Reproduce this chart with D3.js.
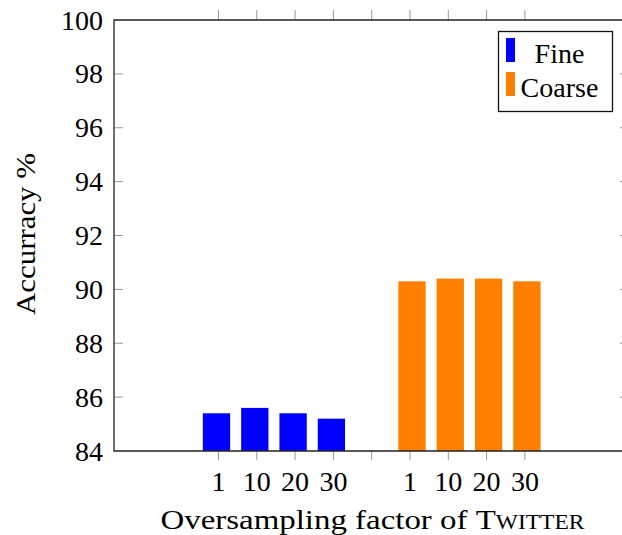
<!DOCTYPE html>
<html>
<head>
<meta charset="utf-8">
<script src="https://cdn.jsdelivr.net/npm/d3@7"></script>
<style>
  html, body { margin: 0; padding: 0; background: #fff; }
  svg { display: block; }
  text { font-family: "Liberation Serif", "DejaVu Serif", serif; fill: #000; }
</style>
</head>
<body>
<div id="chart"></div>
<script>
// Oversampling factors (tick labels) for each granularity
const factors = ["1", "10", "20", "30"];
// Accuracy (%) per oversampling factor
const fineValues = [85.4, 85.6, 85.4, 85.2];
const coarseValues = [90.3, 90.4, 90.4, 90.3];
const seriesNames = ["Fine", "Coarse"];
const seriesColors = ["#0000ff", "#ff8000"];
const yTicks = [84, 86, 88, 90, 92, 94, 96, 98, 100];

const W = 622, H = 535;
const plot = { left: 114, top: 20, bottom: 451, right: 630 };

const svg = d3.select("#chart").append("svg")
  .attr("width", W).attr("height", H);

// Slot keys: four fine positions, an empty spacer slot, four coarse positions
const slots = [
  ...factors.map(f => "F" + f),
  "gap",
  ...factors.map(f => "C" + f)
];
const x = d3.scalePoint().domain(slots).range([218.5, 524.9]);
const y = d3.scaleLinear().domain([84, 100]).range([plot.bottom, plot.top]);

const step = x.step();
const barW = step * 0.713;
const shift = 2;

const bars = [
  ...fineValues.map((v, i) => ({ key: "F" + factors[i], v, s: 0 })),
  ...coarseValues.map((v, i) => ({ key: "C" + factors[i], v, s: 1 }))
];

// Bars
svg.append("g").selectAll("rect").data(bars).join("rect")
  .attr("x", d => x(d.key) - barW / 2 + (d.s === 0 ? -shift : shift))
  .attr("y", d => y(d.v))
  .attr("width", barW)
  .attr("height", d => y(84) - y(d.v))
  .attr("fill", d => seriesColors[d.s]);

// Y axis ticks (inward on left and right) and labels
const gy = svg.append("g");
gy.selectAll("line.l").data(yTicks.slice(1, -1)).join("line")
  .attr("x1", plot.left).attr("x2", plot.left + 9)
  .attr("y1", d => y(d)).attr("y2", d => y(d))
  .attr("stroke", "#999").attr("stroke-width", 1);
gy.selectAll("line.r").data(yTicks.slice(1, -1)).join("line")
  .attr("x1", plot.right - 10).attr("x2", plot.right)
  .attr("y1", d => y(d)).attr("y2", d => y(d))
  .attr("stroke", "#999").attr("stroke-width", 1);
gy.selectAll("text").data(yTicks).join("text")
  .attr("x", plot.left - 11)
  .attr("y", d => y(d) + 9.5)
  .attr("text-anchor", "end")
  .attr("font-size", 28)
  .text(d => d);

// X axis ticks (outward, top and bottom) and labels
const gx = svg.append("g");
gx.selectAll("line.b").data(slots).join("line")
  .attr("x1", d => x(d)).attr("x2", d => x(d))
  .attr("y1", plot.bottom).attr("y2", plot.bottom + 9)
  .attr("stroke", "#999").attr("stroke-width", 1);
gx.selectAll("line.t").data(slots).join("line")
  .attr("x1", d => x(d)).attr("x2", d => x(d))
  .attr("y1", plot.top - 10).attr("y2", plot.top)
  .attr("stroke", "#999").attr("stroke-width", 1);
gx.selectAll("text").data(slots.filter(s => s !== "gap")).join("text")
  .attr("x", d => x(d))
  .attr("y", 491)
  .attr("text-anchor", "middle")
  .attr("font-size", 28)
  .text(d => d.slice(1));

// Axis frame
svg.append("path")
  .attr("d", `M${plot.right},${plot.top}H${plot.left}V${plot.bottom}H${plot.right}`)
  .attr("fill", "none").attr("stroke", "#222").attr("stroke-width", 1.3);

// Axis titles
const xt = svg.append("text")
  .attr("x", 372.5).attr("y", 528.5)
  .attr("text-anchor", "middle")
  .attr("font-size", 28)
  .attr("textLength", 424)
  .attr("lengthAdjust", "spacingAndGlyphs");
xt.append("tspan").text("Oversampling factor of ");
xt.append("tspan").attr("font-variant", "small-caps").text("Twitter");

svg.append("text")
  .attr("transform", "translate(35,234) rotate(-90)")
  .attr("text-anchor", "middle")
  .attr("font-size", 28)
  .attr("textLength", 162)
  .attr("lengthAdjust", "spacingAndGlyphs")
  .text("Accurracy %");

// Legend
const lg = svg.append("g");
lg.append("rect")
  .attr("x", 498.5).attr("y", 31.5).attr("width", 114).attr("height", 80)
  .attr("fill", "#fff").attr("stroke", "#111").attr("stroke-width", 1.3);
seriesNames.forEach((name, i) => {
  lg.append("rect")
    .attr("x", 506).attr("y", 38 + i * 34).attr("width", 9).attr("height", 24)
    .attr("fill", seriesColors[i]);
  lg.append("text")
    .attr("x", 559.5).attr("y", 62.5 + i * 34)
    .attr("text-anchor", "middle")
    .attr("font-size", 28)
    .text(name);
});
</script>
</body>
</html>
